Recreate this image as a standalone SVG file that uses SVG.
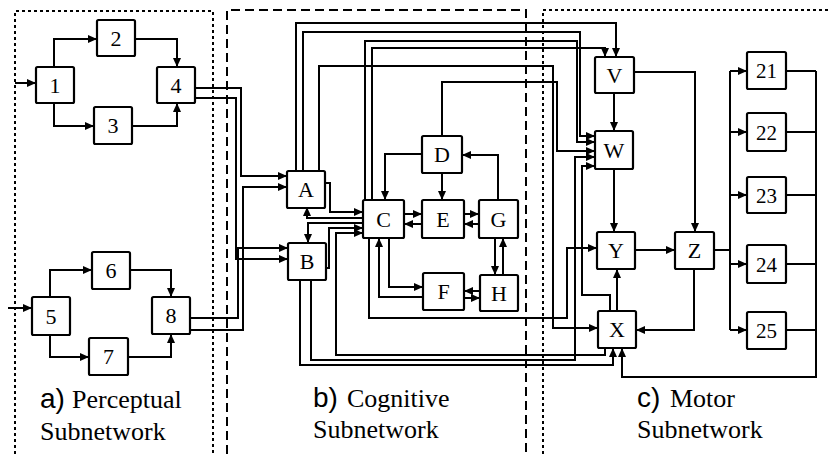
<svg xmlns="http://www.w3.org/2000/svg" width="829" height="454" viewBox="0 0 829 454">
<style>
.bg{fill:#fff}
.box{fill:#fff;stroke:#000;stroke-width:2.2}
.lbl{font-family:"Liberation Serif","Times New Roman",serif;font-size:22px;fill:#000;text-anchor:middle}
.lbs{font-family:"Liberation Serif","Times New Roman",serif;font-size:21px;fill:#000;text-anchor:middle}
.e{fill:none;stroke:#000;stroke-width:2;marker-end:url(#ah)}
.p{fill:none;stroke:#000;stroke-width:2}
.dot{fill:none;stroke:#000;stroke-width:2;stroke-dasharray:3 3}
.dash{fill:none;stroke:#000;stroke-width:2;stroke-dasharray:9 5}
.reg{font-family:"Liberation Serif","Times New Roman",serif;font-size:26px;fill:#000}
.pre{font-family:"Liberation Sans",Arial,sans-serif;font-size:28px}
</style>
<defs>
<marker id="ah" markerUnits="userSpaceOnUse" markerWidth="10" markerHeight="8" refX="9" refY="4" orient="auto">
<path d="M0,0 L9,4 L0,8 z" fill="#000"/>
</marker>
</defs>
<rect class="bg" x="0" y="0" width="829" height="454"/>
<g id="regions">
<path class="dot" d="M15,454 V11 H213 V454"/>
<path class="dash" d="M227,454 V10 H526 V454"/>
<path class="dot" d="M543,454 V10 H829"/>
<text class="reg" x="40" y="408"><tspan class="pre">a)</tspan><tspan x="72">Perceptual</tspan></text>
<text class="reg" x="40" y="440">Subnetwork</text>
<text class="reg" x="313" y="407"><tspan class="pre">b)</tspan><tspan x="347">Cognitive</tspan></text>
<text class="reg" x="313" y="438">Subnetwork</text>
<text class="reg" x="637" y="407"><tspan class="pre">c)</tspan><tspan x="670">Motor</tspan></text>
<text class="reg" x="637" y="438">Subnetwork</text>
</g>
<g id="connectors">
<!-- perceptual -->
<path class="e" d="M15,83 H36"/>
<path class="e" d="M54,67 V39 H97"/>
<path class="e" d="M135,39 H177 V67"/>
<path class="e" d="M54,103 V126 H94"/>
<path class="e" d="M132,126 H177 V103"/>
<path class="e" d="M8,308 H32"/>
<path class="e" d="M50,297 V270 H92"/>
<path class="e" d="M130,270 H171 V297"/>
<path class="e" d="M50,335 V357 H89"/>
<path class="e" d="M128,357 H171 V334"/>
<!-- perceptual to cognitive -->
<path class="e" d="M195,88 H241 V176 H287"/>
<path class="e" d="M195,98 H236 V259 H288"/>
<path class="e" d="M190,330 H243 V187 H287"/>
<path class="e" d="M190,318 H238 V248 H288"/>
<!-- cognitive -->
<path class="e" d="M422,154 H385 V200"/>
<path class="e" d="M442,173 V200"/>
<path class="e" d="M498,200 V155 H462"/>
<path class="e" d="M404,214 H422"/>
<path class="e" d="M422,224 H404"/>
<path class="e" d="M464,214 H479"/>
<path class="e" d="M479,224 H464"/>
<path class="e" d="M495,238 V275"/>
<path class="e" d="M503,275 V238"/>
<path class="e" d="M480,291 H464"/>
<path class="e" d="M464,298 H480"/>
<path class="e" d="M389,238 V287 H423"/>
<path class="e" d="M423,297 H379 V238"/>
<path class="e" d="M326,183 H330 V212 H363"/>
<path class="e" d="M363,218 H307 V207"/>
<path class="e" d="M363,223 H308 V243"/>
<path class="e" d="M326,268 H329 V228 H363"/>
<path class="e" d="M605,348 V355 H336 V233 H363"/>
<!-- cognitive to motor -->
<path class="e" d="M369,238 V318 H567 V248 H597"/>
<path class="e" d="M296,171 V23 H616 V57"/>
<path class="e" d="M303,171 V32 H580 V136 H595"/>
<path class="e" d="M319,171 V66 H553 V328 H598"/>
<path class="e" d="M365,200 V41 H577 V142 H595"/>
<path class="e" d="M372,200 V48 H605 V57"/>
<path class="e" d="M442,136 V82 H557 V151 H595"/>
<path class="e" d="M311,280 V360 H575 V157 H595"/>
<path class="e" d="M300,280 V365 H613 V348"/>
<path class="e" d="M610,311 V295 H582 V166 H595"/>
<!-- motor -->
<path class="e" d="M614,93 V131"/>
<path class="e" d="M634,72 H695 V232"/>
<path class="e" d="M614,169 V232"/>
<path class="e" d="M635,250 H675"/>
<path class="e" d="M617,311 V269"/>
<path class="e" d="M694,269 V330 H636"/>
<path class="p" d="M714,250 H730"/>
<path class="p" d="M730,71 V330"/>
<path class="e" d="M730,71 H747"/>
<path class="e" d="M730,132 H747"/>
<path class="e" d="M730,195 H747"/>
<path class="e" d="M730,264 H747"/>
<path class="e" d="M730,330 H747"/>
<path class="p" d="M786,71 H816 M786,132 H816 M786,195 H816 M786,264 H816 M786,330 H816"/>
<path class="e" d="M816,71 V377 H622 V348"/>
</g>
<g id="n1"><rect class="box" x="36" y="67" width="38" height="36" rx="1.5"/><text class="lbl" x="55" y="93">1</text></g>
<g id="n2"><rect class="box" x="97" y="20" width="38" height="36" rx="1.5"/><text class="lbl" x="116" y="46">2</text></g>
<g id="n3"><rect class="box" x="94" y="107" width="38" height="37" rx="1.5"/><text class="lbl" x="113" y="133">3</text></g>
<g id="n4"><rect class="box" x="157" y="67" width="38" height="36" rx="1.5"/><text class="lbl" x="176" y="93">4</text></g>
<g id="n5"><rect class="box" x="32" y="297" width="38" height="38" rx="1.5"/><text class="lbl" x="51" y="324">5</text></g>
<g id="n6"><rect class="box" x="92" y="252" width="38" height="37" rx="1.5"/><text class="lbl" x="111" y="278">6</text></g>
<g id="n7"><rect class="box" x="89" y="338" width="39" height="37" rx="1.5"/><text class="lbl" x="108.5" y="364">7</text></g>
<g id="n8"><rect class="box" x="152" y="297" width="38" height="37" rx="1.5"/><text class="lbl" x="171" y="323">8</text></g>
<g id="nA"><rect class="box" x="287" y="171" width="38" height="37" rx="1.5"/><text class="lbl" x="306" y="197">A</text></g>
<g id="nB"><rect class="box" x="288" y="243" width="38" height="37" rx="1.5"/><text class="lbl" x="307" y="269">B</text></g>
<g id="nC"><rect class="box" x="363" y="200" width="41" height="38" rx="1.5"/><text class="lbl" x="383.5" y="227">C</text></g>
<g id="nD"><rect class="box" x="422" y="136" width="40" height="37" rx="1.5"/><text class="lbl" x="442" y="162">D</text></g>
<g id="nE"><rect class="box" x="422" y="200" width="42" height="38" rx="1.5"/><text class="lbl" x="443" y="227">E</text></g>
<g id="nG"><rect class="box" x="479" y="200" width="39" height="38" rx="1.5"/><text class="lbl" x="498.5" y="227">G</text></g>
<g id="nF"><rect class="box" x="423" y="273" width="41" height="37" rx="1.5"/><text class="lbl" x="443.5" y="299">F</text></g>
<g id="nH"><rect class="box" x="480" y="275" width="38" height="36" rx="1.5"/><text class="lbl" x="499" y="301">H</text></g>
<g id="nV"><rect class="box" x="595" y="57" width="39" height="36" rx="1.5"/><text class="lbl" x="614.5" y="83">V</text></g>
<g id="nW"><rect class="box" x="595" y="131" width="38" height="38" rx="1.5"/><text class="lbl" x="614" y="158">W</text></g>
<g id="nY"><rect class="box" x="597" y="232" width="38" height="37" rx="1.5"/><text class="lbl" x="616" y="258">Y</text></g>
<g id="nZ"><rect class="box" x="675" y="232" width="39" height="37" rx="1.5"/><text class="lbl" x="694.5" y="258">Z</text></g>
<g id="nX"><rect class="box" x="598" y="311" width="38" height="37" rx="1.5"/><text class="lbl" x="617" y="337">X</text></g>
<g id="n21"><rect class="box" x="747" y="52" width="39" height="37" rx="1.5"/><text class="lbs" x="766.5" y="78">21</text></g>
<g id="n22"><rect class="box" x="747" y="113" width="39" height="38" rx="1.5"/><text class="lbs" x="766.5" y="139.5">22</text></g>
<g id="n23"><rect class="box" x="747" y="177" width="39" height="36" rx="1.5"/><text class="lbs" x="766.5" y="202.5">23</text></g>
<g id="n24"><rect class="box" x="747" y="245" width="39" height="38" rx="1.5"/><text class="lbs" x="766.5" y="271.5">24</text></g>
<g id="n25"><rect class="box" x="747" y="312" width="39" height="37" rx="1.5"/><text class="lbs" x="766.5" y="338">25</text></g>
</svg>
